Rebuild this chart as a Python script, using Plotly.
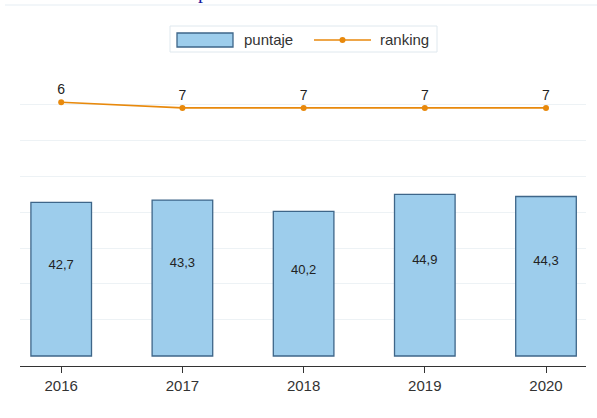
import plotly.graph_objects as go

years = ["2016", "2017", "2018", "2019", "2020"]
puntaje = [42.7, 43.3, 40.2, 44.9, 44.3]
ranking = [6, 7, 7, 7, 7]
puntaje_labels = ["42,7", "43,3", "40,2", "44,9", "44,3"]
grid_vals = [10, 20, 30, 40, 50, 60, 70]

W, H = 597, 418
ML, MR, MT, MB = 20, 11, 68, 52
PW, PH = W - ML - MR, H - MT - MB


def px(x):
    return (x - ML) / PW


def py(y):
    return (H - MB - y) / PH


BAR_FILL = "#9dcdec"
BAR_LINE = "#3e6689"
ORANGE = "#e8890c"
FONT = "Liberation Sans, Arial"

xi = list(range(len(years)))

fig = go.Figure()
fig.add_trace(go.Bar(
    x=xi, y=puntaje, name="puntaje", width=0.5,
    marker=dict(color=BAR_FILL, line=dict(color=BAR_LINE, width=1.3)),
    showlegend=False,
))
fig.add_trace(go.Scatter(
    x=xi, y=[v * 0.59 for v in puntaje], mode="text", text=puntaje_labels,
    textfont=dict(family=FONT, size=13, color="#222222"),
    showlegend=False, hoverinfo="skip",
))
fig.add_trace(go.Scatter(
    x=xi, y=ranking, name="ranking", yaxis="y2", mode="lines+markers+text",
    text=[str(r) for r in ranking], textposition="top center",
    textfont=dict(family=FONT, size=14, color="#222222"),
    line=dict(color=ORANGE, width=1.6),
    marker=dict(color=ORANGE, size=6),
    cliponaxis=False, showlegend=False,
))

shapes = [
    # thin rule at the very top of the page
    dict(type="line", xref="paper", yref="paper",
         x0=px(5), x1=px(597), y0=py(5), y1=py(5),
         line=dict(color="#e6eef4", width=1.2)),
    # legend frame
    dict(type="rect", xref="paper", yref="paper",
         x0=px(170), x1=px(437), y0=py(52), y1=py(26),
         line=dict(color="#dfe8ee", width=1), fillcolor="white"),
    # legend bar swatch
    dict(type="rect", xref="paper", yref="paper",
         x0=px(177), x1=px(233), y0=py(47), y1=py(33),
         line=dict(color=BAR_LINE, width=1.3), fillcolor=BAR_FILL),
    # legend line swatch
    dict(type="line", xref="paper", yref="paper",
         x0=px(314), x1=px(371), y0=py(40), y1=py(40),
         line=dict(color=ORANGE, width=1.6)),
    dict(type="circle", xref="paper", yref="paper",
         x0=px(339.5), x1=px(345.5), y0=py(43), y1=py(37),
         line=dict(color=ORANGE, width=0), fillcolor=ORANGE),
]

annotations = [
    dict(text="puntaje", xref="paper", yref="paper", x=px(242), y=py(40),
         xanchor="left", yanchor="middle", showarrow=False,
         font=dict(family=FONT, size=15, color="#333333")),
    dict(text="ranking", xref="paper", yref="paper", x=px(378), y=py(40),
         xanchor="left", yanchor="middle", showarrow=False,
         font=dict(family=FONT, size=15, color="#333333")),
    dict(text="p", xref="paper", yref="paper", x=px(203), y=py(-8),
         xanchor="center", yanchor="middle", showarrow=False,
         font=dict(family="Liberation Serif", size=20, color="#1a1aa0")),
]

fig.update_layout(
    width=W, height=H,
    margin=dict(l=ML, r=MR, t=MT, b=MB),
    paper_bgcolor="white", plot_bgcolor="white",
    font=dict(family=FONT, size=13, color="#333333"),
    showlegend=False,
    xaxis=dict(
        range=[-0.34, 4.33], tickvals=xi, ticktext=years,
        showgrid=False, zeroline=False,
        showline=True, linecolor="#333333", linewidth=1.2,
        ticks="outside", ticklen=6, tickcolor="#333333", tickwidth=1.2,
        tickfont=dict(size=15, color="#333333"),
    ),
    yaxis=dict(
        range=[-2.78, 80], tickvals=grid_vals, showticklabels=False,
        showgrid=True, gridcolor="#edf2f5", gridwidth=1,
        zeroline=False, showline=False,
    ),
    yaxis2=dict(
        range=[52.3, 0], overlaying="y", side="right",
        showgrid=False, showticklabels=False, zeroline=False, showline=False,
    ),
    shapes=shapes,
    annotations=annotations,
)

fig.write_html(
    "out.html",
    config={"displayModeBar": False},
    post_script="document.body.style.margin='0';document.body.style.overflow='hidden';",
)
